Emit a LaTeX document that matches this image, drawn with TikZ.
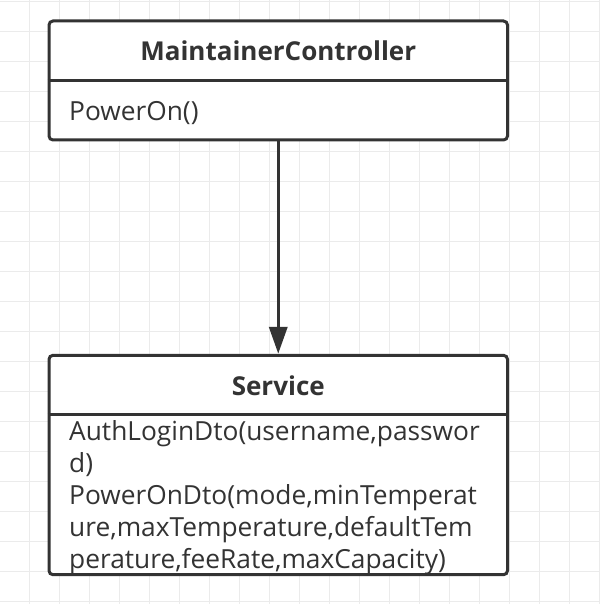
\documentclass[tikz,border=0pt]{standalone}
\usepackage{fontspec}
\setmainfont{Open Sans}
\usetikzlibrary{arrows.meta, positioning}
\definecolor{umlline}{HTML}{333333}
\definecolor{gridgray}{HTML}{EBEBEB}

\begin{document}
\begin{tikzpicture}[
    x=1pt, y=-1pt,
    classbox/.style={draw=umlline, line width=3pt, rounded corners=4pt, fill=white,
        minimum width=458.5pt, anchor=north west, inner sep=0pt},
    classname/.style={font=\bfseries\fontsize{26}{32}\selectfont, text=umlline, inner sep=0pt, anchor=base},
    member/.style={font=\fontsize{26.3}{32}\selectfont, text=umlline, align=left, inner sep=0pt, anchor=base west},
    divider/.style={draw=umlline, line width=3pt},
    assoc/.style={draw=umlline, line width=3.5pt, -{Triangle[length=27pt, width=18pt]}},
    gridline/.style={draw=gridgray, line width=1.5pt}
]
\useasboundingbox (0,0) rectangle (599,604);

% grid paper
\fill[white] (0,0) rectangle (599,604);
\foreach \gx in {0,...,19}
    \draw[gridline] ({29.3+30*\gx},0) -- ({29.3+30*\gx},604);
\foreach \gy in {0,...,20}
    \draw[gridline] (0,{1.7+30*\gy}) -- (599,{1.7+30*\gy});

% MaintainerController class
\node[classbox, minimum height=119pt] (ctrl) at (47.5,19.5) {};
\node[classname] (ctrlName) at ([yshift=-41.5pt]ctrl.north) {MaintainerController};
\coordinate (ctrlSplit) at (0,80.7);
\draw[divider] (ctrl.west |- ctrlSplit) -- (ctrl.east |- ctrlSplit);
\node[member] (ctrlOps) at (69,120.7) {PowerOn()};

% Service class
\node[classbox, minimum height=219.4pt] (svc) at (47.5,353.8) {};
\node[classname] (svcName) at ([yshift=-41.2pt]svc.north) {Service};
\coordinate (svcSplit) at (0,414.7);
\draw[divider] (svc.west |- svcSplit) -- (svc.east |- svcSplit);
% base of a multi-line node = last line
\node[member] (svcOps) at (69,568.7) {AuthLoginDto(username,passwor\\
    d)\\
    PowerOnDto(mode,minTemperat\\
    ure,maxTemperature,defaultTem\\
    perature,feeRate,maxCapacity)};

% call
\draw[assoc] (ctrl) -- (svc);

\end{tikzpicture}
\end{document}
